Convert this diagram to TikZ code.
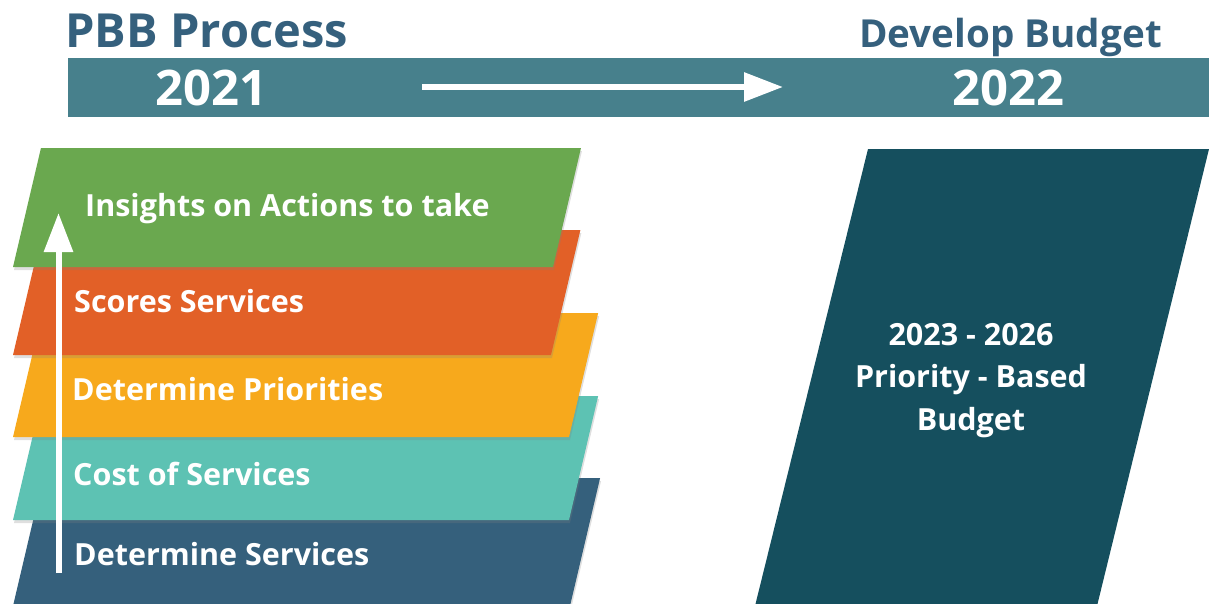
\documentclass[tikz,border=0pt]{standalone}
\usepackage{fontspec}
\setmainfont{Open Sans}
\usetikzlibrary{arrows.meta,shadows}
\definecolor{headblue}{HTML}{35607D}
\definecolor{barteal}{HTML}{47808C}
\definecolor{greenband}{HTML}{6AA84F}
\definecolor{orangeband}{HTML}{E26027}
\definecolor{goldband}{HTML}{F7A91C}
\definecolor{tealband}{HTML}{5DC2B3}
\definecolor{darkband}{HTML}{35607C}
\definecolor{budgetbox}{HTML}{154F5E}
\tikzset{
    band/.style={
           fill=#1,
           drop shadow={shadow xshift=1pt, shadow yshift=-3pt, opacity=0.25}
           },
    bandtext/.style={
           anchor=base west,
           inner sep=0pt,
           text=white,
           font=\fontsize{30.5}{34}\selectfont\bfseries
           },
    headline/.style={
           anchor=base west,
           inner sep=0pt,
           text=headblue,
           font=\fontsize{#1}{#1}\selectfont\bfseries
           },
    yeartext/.style={
           anchor=base west,
           inner sep=0pt,
           text=white,
           font=\fontsize{49}{49}\selectfont\bfseries
           },
    whitearrow/.style={
           draw=white,
           line width=6pt,
           -{Triangle[length=#1, width=28pt]}
           }
}
\begin{document}
\begin{tikzpicture}[x=1pt, y=-1pt]
   \useasboundingbox (0,0) rectangle (1209,603);
   % headings and time bar
   \node[headline=47] (pbb) at (65,47) {PBB Process};
   \node[headline=38.6] (develop) at (859,47) {Develop Budget};
   \fill[barteal] (68,58) rectangle (1209,117);
   \node[yeartext] (y2021) at (155,105) {2021};
   \node[yeartext] (y2022) at (952,105) {2022};
   \coordinate (barstart) at (422,87);
   \coordinate (barend) at (783,87);
   \draw[whitearrow=39pt] (barstart) -- (barend);
   % process stack, bottom band first
   \foreach \col/\yt/\yb/\xr in {darkband/478/606/570, tealband/396/520/569, goldband/313/437/569, orangeband/230/355/551, greenband/148/267/553}
      \path[band=\col] (13,\yb) -- ({13+0.235*(\yb-\yt)},\yt) -- ({\xr+0.235*(\yb-\yt)},\yt) -- (\xr,\yb) -- cycle;
   \node[bandtext] (insights) at (85,216) {Insights on Actions to take};
   \node[bandtext] (scores) at (74,312) {Scores Services};
   \node[bandtext] (priorities) at (72,400) {Determine Priorities};
   \node[bandtext] (cost) at (73,485) {Cost of Services};
   \node[bandtext] (services) at (74,565) {Determine Services};
   \coordinate (stackfoot) at (58.5,573);
   \coordinate (stacktop) at (58.5,213);
   \draw[whitearrow=39pt] (stackfoot) -- (stacktop);
   % budget panel
   \fill[budgetbox] (755,606) -- (868,149) -- (1209,149) -- (1097,606) -- cycle;
   \node[text=white, align=center, anchor=north, inner sep=0pt,
         font=\fontsize{30.5}{42.5}\selectfont\bfseries] (budget) at (971,323)
         {2023 - 2026\\Priority - Based\\Budget};
\end{tikzpicture}
\end{document}
